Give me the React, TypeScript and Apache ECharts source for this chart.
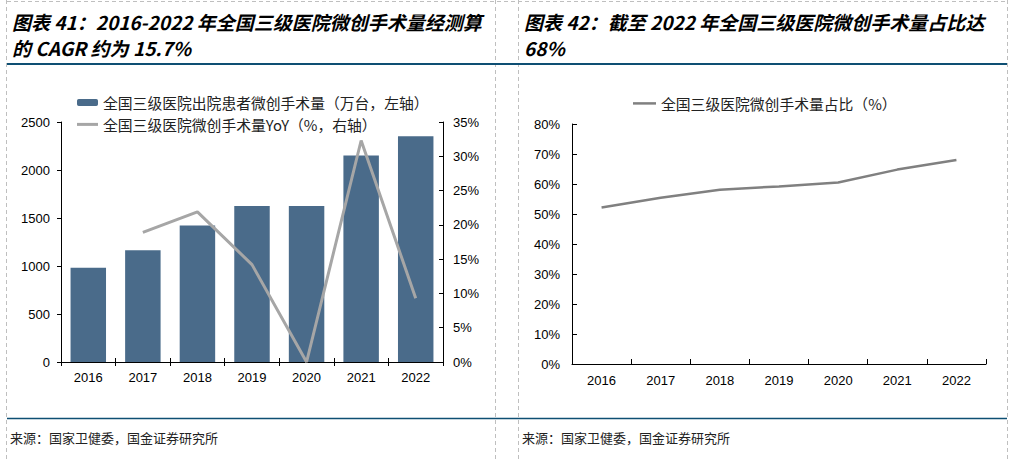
import React, { useEffect, useRef } from "react";
import * as echarts from "echarts";

const years = ["2016", "2017", "2018", "2019", "2020", "2021", "2022"];
const surgeries = [983, 1164, 1421, 1625, 1625, 2150, 2351];
const yoy: (number | null)[] = [null, 18.9, 21.9, 14.2, 0, 32.3, 9.3];
const share = [52.2, 55.4, 58.1, 59.2, 60.5, 64.8, 68.0];

const barName = "全国三级医院出院患者微创手术量（万台，左轴）";
const yoyName = "全国三级医院微创手术量YoY（%，右轴）";
const shareName = "全国三级医院微创手术量占比（%）";

const title1a = "图表 41：2016-2022 年全国三级医院微创手术量经测算";
const title1b = "的 CAGR 约为 15.7%";
const title2a = "图表 42：截至 2022 年全国三级医院微创手术量占比达";
const title2b = "68%";
const source = "来源：国家卫健委，国金证券研究所";

const CJK = '"Noto Sans CJK SC", sans-serif';
const NUM = '"Liberation Sans", Arial, sans-serif';

export default function App() {
  const ref = useRef<HTMLDivElement>(null);
  useEffect(() => {
    document.body.style.margin = "0";
    const chart = echarts.init(ref.current!, null, { renderer: "svg" });
    const axisLabel = { color: "#000", fontSize: 13, fontFamily: NUM };
    const axisLine = { show: true, lineStyle: { color: "#000", width: 1 } };
    const tickStyle = { color: "#000", width: 1 };
    const dash = { stroke: "#BFBFBF", lineWidth: 1, lineDash: [4, 3] };
    const legendText = { fontFamily: CJK, fontSize: 14.8, color: "#222" };
    const titleStyle = (t: string, x: number, y: number) => ({
      type: "text",
      x,
      y,
      style: {
        text: t,
        fontFamily: CJK,
        fontSize: 19,
        fontWeight: "bold",
        fontStyle: "italic",
        fill: "#000",
        textVerticalAlign: "middle",
      },
    });
    chart.setOption({
      animation: false,
      grid: [
        { left: 61, top: 122, width: 382, height: 240 },
        { left: 572, top: 124, width: 414, height: 240 },
      ],
      legend: [
        {
          left: 72,
          top: 90,
          itemWidth: 21,
          itemHeight: 7,
          textStyle: legendText,
          data: [barName],
        },
        {
          left: 72,
          top: 112,
          itemWidth: 21,
          itemHeight: 3,
          textStyle: legendText,
          data: [{ name: yoyName, icon: "rect" }],
        },
        {
          left: 628,
          top: 91,
          itemWidth: 23,
          itemHeight: 2.5,
          textStyle: legendText,
          data: [{ name: shareName, icon: "rect" }],
        },
      ],
      xAxis: [
        {
          type: "category",
          gridIndex: 0,
          data: years,
          boundaryGap: true,
          axisLine,
          axisTick: { show: true, length: 4, lineStyle: tickStyle },
          axisLabel: { ...axisLabel, margin: 9 },
        },
        {
          type: "category",
          gridIndex: 0,
          position: "bottom",
          data: years,
          boundaryGap: true,
          axisLine: { show: false },
          axisTick: { show: true, inside: true, length: 4, lineStyle: tickStyle },
          axisLabel: { show: false },
        },
        {
          type: "category",
          gridIndex: 1,
          data: years,
          boundaryGap: true,
          axisLine,
          axisTick: { show: true, inside: true, length: 5, lineStyle: tickStyle },
          axisLabel: { ...axisLabel, margin: 10 },
        },
      ],
      yAxis: [
        {
          type: "value",
          gridIndex: 0,
          min: 0,
          max: 2500,
          interval: 500,
          axisLine,
          axisTick: { show: true, length: 4, lineStyle: tickStyle },
          splitLine: { show: false },
          axisLabel: { ...axisLabel, margin: 11, formatter: (v: number) => String(v) },
        },
        {
          type: "value",
          gridIndex: 0,
          position: "right",
          min: 0,
          max: 35,
          interval: 5,
          axisLine,
          axisTick: { show: true, inside: true, length: 4, lineStyle: tickStyle },
          splitLine: { show: false },
          axisLabel: { ...axisLabel, margin: 10, formatter: "{value}%" },
        },
        {
          type: "value",
          gridIndex: 1,
          min: 0,
          max: 80,
          interval: 10,
          axisLine,
          axisTick: { show: true, inside: true, length: 5, lineStyle: tickStyle },
          splitLine: { show: false },
          axisLabel: { ...axisLabel, margin: 12, formatter: "{value}%" },
        },
      ],
      series: [
        {
          name: barName,
          type: "bar",
          xAxisIndex: 0,
          yAxisIndex: 0,
          data: surgeries,
          barCategoryGap: "35%",
          itemStyle: { color: "#4A6B8A" },
        },
        {
          name: yoyName,
          type: "line",
          xAxisIndex: 0,
          yAxisIndex: 1,
          data: yoy,
          symbol: "none",
          lineStyle: { color: "#A6A6A6", width: 3 },
          itemStyle: { color: "#A6A6A6" },
        },
        {
          name: shareName,
          type: "line",
          xAxisIndex: 2,
          yAxisIndex: 2,
          data: share,
          symbol: "none",
          lineStyle: { color: "#808080", width: 2.5 },
          itemStyle: { color: "#808080" },
        },
      ],
      graphic: [
        { type: "line", shape: { x1: 6.5, y1: 0, x2: 6.5, y2: 459 }, style: dash },
        { type: "line", shape: { x1: 495.5, y1: 0, x2: 495.5, y2: 459 }, style: dash },
        { type: "line", shape: { x1: 518.5, y1: 0, x2: 518.5, y2: 459 }, style: dash },
        { type: "line", shape: { x1: 1007.5, y1: 0, x2: 1007.5, y2: 459 }, style: dash },
        { type: "line", shape: { x1: 7, y1: 1.5, x2: 1007, y2: 1.5 }, style: dash },
        { type: "line", shape: { x1: 7, y1: 64, x2: 1007, y2: 64 }, style: { stroke: "#0E4F73", lineWidth: 2 } },
        { type: "line", shape: { x1: 7, y1: 418.5, x2: 1007, y2: 418.5 }, style: { stroke: "#0E4F73", lineWidth: 1.5 } },
        titleStyle(title1a, 12, 21),
        titleStyle(title1b, 12, 47),
        titleStyle(title2a, 524, 21),
        titleStyle(title2b, 524, 47),
        {
          type: "text",
          x: 10,
          y: 437,
          style: { text: source, fontFamily: CJK, fontSize: 13, fill: "#222", textVerticalAlign: "middle" },
        },
        {
          type: "text",
          x: 522,
          y: 437,
          style: { text: source, fontFamily: CJK, fontSize: 13, fill: "#222", textVerticalAlign: "middle" },
        },
      ],
    });
    return () => chart.dispose();
  }, []);
  return <div ref={ref} style={{ width: 1009, height: 459 }} />;
}
